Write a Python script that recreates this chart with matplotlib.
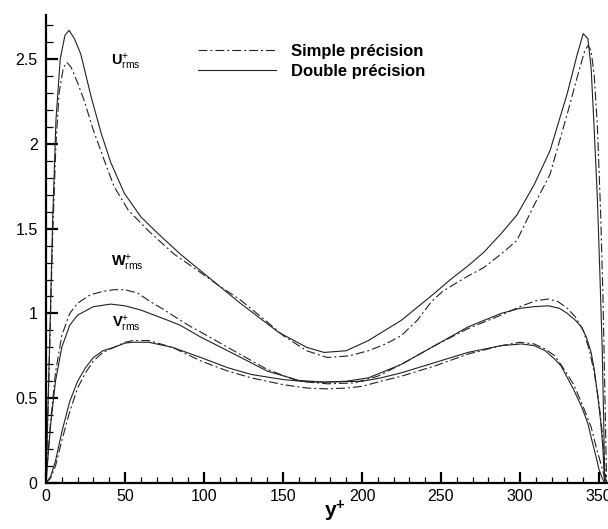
import matplotlib
matplotlib.use("Agg")
import matplotlib.pyplot as plt
from matplotlib.ticker import MultipleLocator

plt.rcParams['font.family'] = ['Liberation Sans', 'DejaVu Sans']
plt.rcParams['mathtext.fontset'] = 'custom'
plt.rcParams['mathtext.rm'] = 'Liberation Sans'
plt.rcParams['mathtext.bf'] = 'Liberation Sans:bold'
plt.rcParams['mathtext.it'] = 'Liberation Sans:italic'

# ---------------- data ----------------
u_double_x = [0, 1, 2.5, 4.2, 6.3, 9, 12, 14.6, 18, 22, 28.5, 35, 41, 49.5, 60, 71, 85, 102, 123,
              147, 165, 176, 190, 204, 225, 246, 256, 267, 277, 288, 298, 309, 319, 330, 336, 340,
              343, 345, 347, 349, 350.5, 352, 353, 353.6]
u_double_y = [0, 0.36, 0.9, 1.55, 2.14, 2.5, 2.64, 2.67, 2.62, 2.53, 2.28, 2.06, 1.89, 1.71, 1.57,
              1.47, 1.35, 1.22, 1.06, 0.89, 0.80, 0.77, 0.78, 0.84, 0.96, 1.12, 1.20, 1.28, 1.36,
              1.47, 1.58, 1.76, 1.96, 2.30, 2.52, 2.65, 2.62, 2.45, 2.08, 1.67, 1.25, 0.8, 0.35, 0]

u_simple_x = [0, 1, 2.5, 4.2, 6.3, 8.3, 11, 13.3, 16, 20, 24, 30, 37, 43, 52, 64.5, 81, 98, 110,
              123, 140, 150, 165, 178, 192, 204, 215, 225, 235, 244, 251, 258, 267, 277, 288, 298,
              309, 319, 330, 337, 341, 343, 345, 347, 349, 351, 352.5, 354, 354.8]
u_simple_y = [0, 0.33, 0.85, 1.45, 2.0, 2.3, 2.45, 2.48, 2.45, 2.36, 2.26, 2.08, 1.90, 1.75, 1.61,
              1.49, 1.35, 1.24, 1.16, 1.08, 0.95, 0.87, 0.78, 0.74, 0.75, 0.78, 0.82, 0.87, 0.96,
              1.07, 1.13, 1.17, 1.22, 1.27, 1.35, 1.43, 1.64, 1.82, 2.18, 2.42, 2.55, 2.58, 2.55,
              2.4, 2.1, 1.6, 1.1, 0.4, 0]

w_double_x = [0, 1.5, 3, 6, 10, 15, 20, 30, 41, 50, 60, 77, 85, 98, 115, 140, 160, 176, 190, 204,
              225, 246, 267, 288, 300, 309, 318, 325, 330, 335, 339, 342, 345, 347, 349, 351,
              352.5, 353.5]
w_double_y = [0, 0.18, 0.35, 0.6, 0.8, 0.93, 0.99, 1.04, 1.055, 1.045, 1.02, 0.96, 0.93, 0.86,
              0.78, 0.66, 0.605, 0.595, 0.60, 0.62, 0.70, 0.81, 0.92, 1.0, 1.03, 1.04, 1.045, 1.03,
              1.0, 0.96, 0.92, 0.86, 0.77, 0.67, 0.53, 0.37, 0.2, 0]

w_simple_x = [0, 1.5, 3, 6, 10, 15, 20, 28, 36, 43, 50, 58, 66, 75, 85, 92, 98, 115, 140,
              160, 178, 195, 210, 225, 246, 267, 288, 300, 310, 318, 324, 330, 335, 340, 344, 347,
              350, 352, 353.5, 354.5]
w_simple_y = [0, 0.2, 0.37, 0.65, 0.87, 1.0, 1.06, 1.11, 1.13, 1.14, 1.14, 1.12, 1.07, 1.02,
              0.96, 0.92, 0.89, 0.80, 0.67, 0.60, 0.585, 0.59, 0.63, 0.70, 0.81, 0.91, 0.99,
              1.04, 1.075, 1.085, 1.07, 1.03, 0.98, 0.90, 0.78, 0.65, 0.47, 0.3, 0.12, 0]

v_double_x = [0, 3, 6, 10, 15, 20, 25, 30, 36, 43, 50, 55, 65, 80, 98, 115, 130, 150, 165, 175,
              190, 200, 212, 225, 246, 267, 288, 301, 309, 316, 322, 326, 330, 334, 339, 343, 345,
              348, 350, 352, 353.5]
v_double_y = [0, 0.04, 0.13, 0.3, 0.48, 0.6, 0.68, 0.74, 0.78, 0.80, 0.825, 0.83, 0.83, 0.80,
              0.74, 0.68, 0.64, 0.61, 0.597, 0.595, 0.598, 0.60, 0.62, 0.65, 0.71, 0.77, 0.81,
              0.82, 0.81, 0.78, 0.73, 0.69, 0.62, 0.55, 0.45, 0.35, 0.27, 0.16, 0.08, 0.03, 0]

v_simple_x = [0, 3, 6, 10, 15, 20, 25, 30, 36, 43, 50, 55, 65, 80, 98, 115, 130, 150, 165, 178,
              190, 200, 212, 225, 246, 267, 288, 300, 309, 316, 322, 328, 334, 340, 345, 348, 351,
              353, 354.5]
v_simple_y = [0, 0.03, 0.1, 0.25, 0.42, 0.56, 0.65, 0.72, 0.77, 0.80, 0.83, 0.84, 0.84, 0.80,
              0.72, 0.66, 0.62, 0.58, 0.56, 0.555, 0.56, 0.57, 0.60, 0.63, 0.69, 0.76, 0.81, 0.83,
              0.82, 0.79, 0.75, 0.67, 0.58, 0.45, 0.33, 0.22, 0.12, 0.05, 0]

legend_labels = ['Simple précision', 'Double précision']
curve_labels = [r'$\mathbf{U}^{+}_{\mathrm{rms}}$', r'$\mathbf{W}^{+}_{\mathrm{rms}}$',
                r'$\mathbf{V}^{+}_{\mathrm{rms}}$']
label_pos_x = [41, 41, 42]
label_pos_y = [2.48, 1.30, 0.94]

# ---------------- figure ----------------
W, H = 608, 529
fig = plt.figure(figsize=(W / 100, H / 100), dpi=100)
left_px, bottom_px, top_px = 46, 483, 15
ax = fig.add_axes([left_px / W, (H - bottom_px) / H, (W - left_px) / W, (bottom_px - top_px) / H])

px_per_unit = 1.58
ax.set_xlim(0, (W - left_px) / px_per_unit)
ax.set_ylim(0, 2.76)

lw = 0.8
dash = (8, 2.7, 1.8, 2.7)
col = '#222222'
ls_simple = None
for xs, ys in [(u_simple_x, u_simple_y), (w_simple_x, w_simple_y), (v_simple_x, v_simple_y)]:
    ls_simple, = ax.plot(xs, ys, color=col, lw=lw, dashes=dash)
for xs, ys in [(u_double_x, u_double_y), (w_double_x, w_double_y), (v_double_x, v_double_y)]:
    ls_double, = ax.plot(xs, ys, color=col, lw=lw)

for t, x, y in zip(curve_labels, label_pos_x, label_pos_y):
    ax.text(x, y, t, fontsize=10.5, ha='left', va='center', color='black')

leg = ax.legend([ls_simple, ls_double], legend_labels, loc='upper left',
                bbox_to_anchor=(198 / W, 1 - 44 / H), bbox_transform=fig.transFigure,
                frameon=False, handlelength=4.7, handletextpad=0.9, labelspacing=0.29,
                borderpad=0, borderaxespad=0,
                prop={'family': 'Liberation Sans', 'weight': 'bold', 'size': 12})

for s in ['top', 'right']:
    ax.spines[s].set_visible(False)
for s in ['left', 'bottom']:
    ax.spines[s].set_linewidth(1.6)

ax.xaxis.set_major_locator(MultipleLocator(50))
ax.xaxis.set_minor_locator(MultipleLocator(10))
ax.yaxis.set_major_locator(MultipleLocator(0.5))
ax.yaxis.set_minor_locator(MultipleLocator(0.1))
ax.yaxis.set_major_formatter(matplotlib.ticker.FuncFormatter(lambda v, p: f'{v:g}'))
ax.tick_params(which='major', direction='in', length=8, width=1.6, labelsize=11.5, pad=6)
ax.tick_params(which='minor', direction='in', length=4.5, width=0.9)
ax.tick_params(axis='y', which='major', length=8.5)
ax.tick_params(axis='y', which='minor', length=5)
ax.tick_params(axis='x', which='major', pad=4)

fig.text(335 / W, 1 - 511 / H, r'$\mathbf{y}^{\mathbf{+}}$', fontsize=15, ha='center', va='center')

fig.savefig('out.png', dpi=100)
